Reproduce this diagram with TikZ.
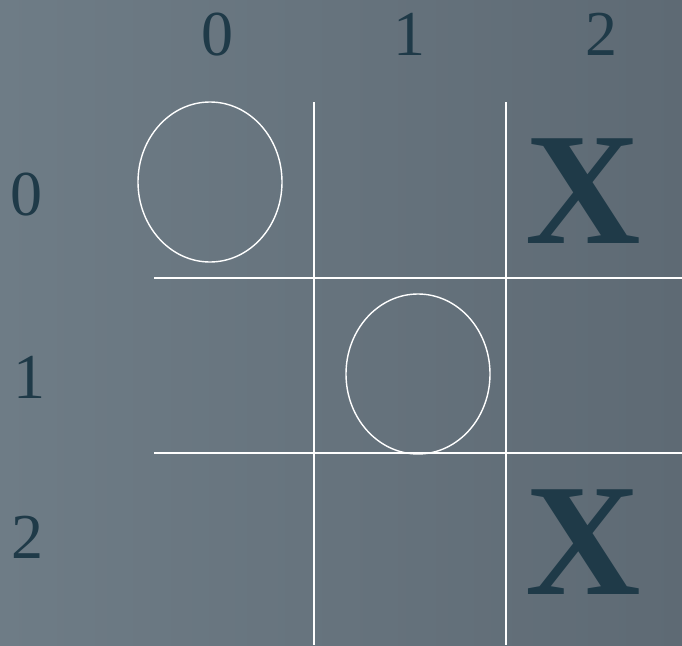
\documentclass[tikz,border=0pt]{standalone}
\usepackage{fontspec}
\setmainfont{Liberation Serif}
\definecolor{bgA}{HTML}{6E7C86}
\definecolor{bgB}{HTML}{5E6A74}
\definecolor{ink}{HTML}{1F3A48}
\tikzset{
  gridline/.style={draw=white, line width=1.6pt},
  ring/.style={draw=white, line width=1.4pt},
  lbl/.style={anchor=base, inner sep=0pt, text=ink, font=\fontsize{64}{70}\selectfont},
  xmark/.style={anchor=base, inner sep=0pt, text=ink, font=\fontsize{160}{170}\selectfont\bfseries},
}
\begin{document}
\begin{tikzpicture}[x=1pt,y=-1pt]
\shade[shading angle=-60, left color=bgA, right color=bgB] (0,0) rectangle (682,645);
\useasboundingbox (0,0) rectangle (682,645);
% grid
\coordinate (v1t) at (314,102); \coordinate (v1b) at (314,645);
\coordinate (v2t) at (506,102); \coordinate (v2b) at (506,645);
\coordinate (h1l) at (154,278); \coordinate (h1r) at (682,278);
\coordinate (h2l) at (154,453); \coordinate (h2r) at (682,453);
\draw[gridline] (v1t) -- (v1b);
\draw[gridline] (v2t) -- (v2b);
\draw[gridline] (h1l) -- (h1r);
\draw[gridline] (h2l) -- (h2r);
% circles
\draw[ring] (210,182) ellipse [x radius=72, y radius=80];
\draw[ring] (418,374) ellipse [x radius=72, y radius=80];
% column labels
\node[lbl] (c0) at (217,55) {0};
\node[lbl] (c1) at (409,55) {1};
\node[lbl] (c2) at (601,55) {2};
% row labels
\node[lbl] (r0) at (26,215) {0};
\node[lbl] (r1) at (29,398) {1};
\node[lbl] (r2) at (28,558) {2};
% X marks
\node[xmark] (x0) at (583,243) {X};
\node[xmark] (x2) at (583,594) {X};
\end{tikzpicture}
\end{document}
